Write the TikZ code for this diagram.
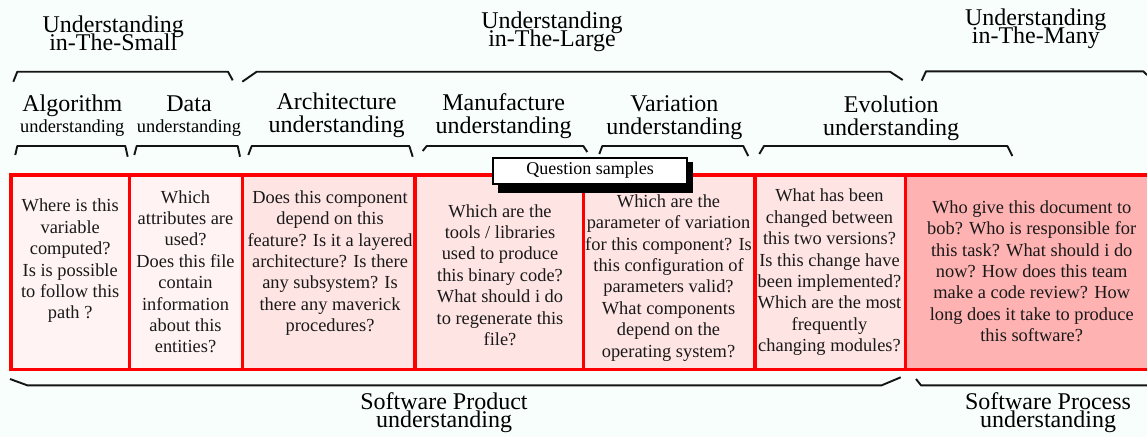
\documentclass[tikz,border=0pt]{standalone}
\usepackage{fontspec}
\setmainfont{Liberation Serif}
\lineskiplimit=-100pt
\definecolor{bgc}{RGB}{247,254,252}
\definecolor{pinkA}{RGB}{255,243,243}
\definecolor{pinkB}{RGB}{255,228,228}
\definecolor{pinkC}{RGB}{255,178,178}
\definecolor{cellred}{RGB}{255,0,0}
\definecolor{brk}{RGB}{20,20,20}
\begin{document}
\begin{tikzpicture}[x=1pt,y=-1pt,
  bracket/.style={draw=brk, line width=1.9pt, line join=round},
  cellbox/.style={draw=cellred, line width=3.2pt},
  celltext/.style={align=center, inner sep=0pt, text=black!90, font=\fontsize{18.4}{21.4}\selectfont},
  toplab/.style={align=center, inner sep=0pt, font=\fontsize{24}{18}\selectfont},
  midlab/.style={align=center, inner sep=0pt, font=\fontsize{24}{23.3}\selectfont},
  smalllab/.style={align=center, inner sep=0pt, font=\fontsize{24}{21}\selectfont},
  qbox/.style={draw=black, line width=2pt, fill=white, inner sep=0pt, minimum width=194pt, minimum height=26pt, font=\fontsize{18}{20}\selectfont}
]
\useasboundingbox[fill=bgc] (0,0) rectangle (1147,437);

% cells
\filldraw[cellbox, fill=pinkA] (11,175) rectangle (129.5,369.5);
\filldraw[cellbox, fill=pinkA] (129.5,175) rectangle (242.8,369.5);
\filldraw[cellbox, fill=pinkB] (242.8,175) rectangle (415,369.5);
\filldraw[cellbox, fill=pinkB] (415,175) rectangle (583.4,369.5);
\filldraw[cellbox, fill=pinkB] (583.4,175) rectangle (755,369.5);
\filldraw[cellbox, fill=pinkB] (755,175) rectangle (905.3,369.5);
\filldraw[cellbox, fill=pinkC] (905.3,175) rectangle (1155,369.5);

% cell texts
\node[celltext] (t1) at (70.2,261) {Where is this\\variable\\computed?\\Is is possible\\to follow this\\path ?};
\node[celltext] (t2) at (185.5,271.7) {Which\\attributes are\\used?\\Does this file\\contain\\information\\about this\\entities?};
\node[celltext] (t3) at (330,263) {Does this component\\depend on this\\feature? Is it a layered\\architecture? Is there\\any subsystem? Is\\there any maverick\\procedures?};
\node[celltext] (t4) at (500,275) {Which are the\\tools / libraries\\used to produce\\this binary code?\\What should i do\\to regenerate this\\file?};
\node[celltext] (t5) at (668.5,277.8) {Which are the\\parameter of variation\\for this component? Is\\this configuration of\\parameters valid?\\What components\\depend on the\\operating system?};
\node[celltext] (t6) at (829.5,272.3) {What has been\\changed between\\this two versions?\\Is this change have\\been implemented?\\Which are the most\\frequently\\changing modules?};
\node[celltext] (t7) at (1031.7,271.2) {Who give this document to\\bob? Who is responsible for\\this task? What should i do\\now? How does this team\\make a code review? How\\long does it take to produce\\this software?};

% question samples box with shadow
\fill[black] (497.5,162) rectangle (693.3,192.7);
\node[qbox] (qs) at (590,170.5) {Question samples};

% top-level labels
\node[toplab] (small) at (113.3,33.2) {Understanding\\in-The-Small};
\node[toplab] (large) at (552,31.9) {Understanding\\in-The-Large};
\node[toplab] (many) at (1035.8,28.9) {Understanding\\in-The-Many};

% top-level brackets
\draw[bracket] (13.3,81.7) -- (17.3,71.7) -- (228,71.7) -- (232.7,80.3);
\draw[bracket] (242.3,81.7) -- (256.7,71.7) -- (890,71.7) -- (902.7,80);
\draw[bracket] (921.7,80.7) -- (926,71.3) -- (1143.3,71.3) -- (1147,75);

% second-level labels
\node[smalllab] (alg) at (72.3,116) {Algorithm\\{\fontsize{18.4}{21}\selectfont understanding}};
\node[smalllab] (data) at (189,116.2) {Data\\{\fontsize{18.4}{21}\selectfont understanding}};
\node[midlab] (arch) at (336.6,115.4) {Architecture\\understanding};
\node[midlab] (manu) at (503.6,116) {Manufacture\\understanding};
\node[midlab] (vari) at (674.4,117.7) {Variation\\understanding};
\node[midlab] (evol) at (891.2,118) {Evolution\\understanding};

% second-level brackets
\draw[bracket] (15.3,155) -- (17.3,146) -- (125.3,146) -- (127.7,156.7);
\draw[bracket] (134.3,155) -- (136.7,146) -- (237.7,146) -- (240,156.7);
\draw[bracket] (248.3,155) -- (251.7,146) -- (409.3,146) -- (412.7,156.7);
\draw[bracket] (422.7,151) -- (426.7,146) -- (583.3,146) -- (587.3,152);
\draw[bracket] (599.3,154) -- (602.3,146) -- (743.3,146) -- (748.3,156);
\draw[bracket] (759.3,154) -- (764,146) -- (1007.3,146) -- (1012.3,156);

% bottom brackets
\draw[bracket] (10,379) -- (27.3,385.3) -- (881.7,385.3) -- (900.7,377.3);
\draw[bracket] (916,379) -- (921,385.3) -- (1150,385.3);

% bottom labels
\node[toplab] (prod) at (444,412.4) {Software Product\\understanding};
\node[toplab] (proc) at (1048,412.4) {Software Process\\understanding};
\end{tikzpicture}
\end{document}
